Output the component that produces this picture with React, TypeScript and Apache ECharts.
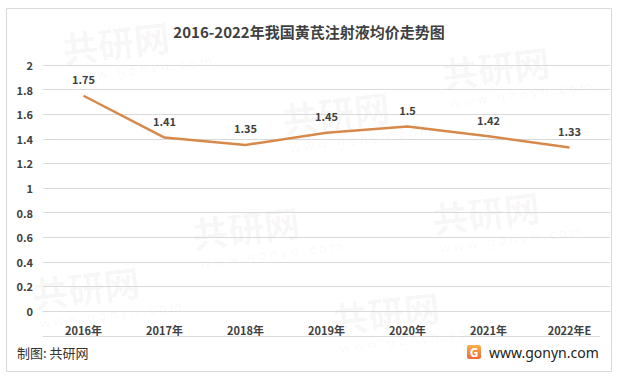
import React, { useEffect, useRef } from "react";
import * as echarts from "echarts";

const categories = ["2016年", "2017年", "2018年", "2019年", "2020年", "2021年", "2022年E"];
const prices = [1.75, 1.41, 1.35, 1.45, 1.5, 1.42, 1.33];
const yTicks = { min: 0, max: 2, interval: 0.2 };
const titleText = "2016-2022年我国黄芪注射液均价走势图";
const sourceText = "制图: 共研网";
const siteText = "www.gonyn.com";

const FONT = "'Noto Sans CJK SC', 'Noto Sans', sans-serif";

function watermark(x: number, y: number) {
  return {
    type: "group",
    x,
    y,
    rotation: 0.12,
    silent: true,
    z: -10,
    children: [
      {
        type: "text",
        style: {
          text: "共研网",
          x: 0,
          y: 0,
          fill: "rgba(0,0,0,0.04)",
          font: `bold 36px ${FONT}`,
        },
      },
      {
        type: "text",
        style: {
          text: "w w w . g o n y n . c o m",
          x: 4,
          y: 42,
          fill: "rgba(0,0,0,0.04)",
          font: `13px 'Noto Sans', sans-serif`,
        },
      },
    ],
  };
}

export default function App() {
  const ref = useRef<HTMLDivElement>(null);

  useEffect(() => {
    document.body.style.margin = "0";
    if (!ref.current) return;
    const chart = echarts.init(ref.current, null, { renderer: "svg" });
    chart.setOption({
      animation: false,
      backgroundColor: "#ffffff",
      title: {
        text: titleText,
        left: "center",
        top: 19,
        textStyle: {
          fontFamily: FONT,
          fontSize: 15,
          fontWeight: "bold",
          color: "#404040",
        },
      },
      grid: { left: 43, right: 8, top: 65, bottom: 74 },
      xAxis: {
        type: "category",
        data: categories,
        boundaryGap: true,
        axisLine: { show: true, lineStyle: { color: "#d9d9d9", width: 1 } },
        axisTick: { show: false },
        axisLabel: {
          margin: 13,
          fontFamily: FONT,
          fontSize: 11,
          fontWeight: "bold",
          color: "#404040",
        },
      },
      yAxis: {
        type: "value",
        min: yTicks.min,
        max: yTicks.max,
        interval: yTicks.interval,
        axisLine: { show: false },
        axisTick: { show: false },
        splitLine: { show: true, lineStyle: { color: "#d9d9d9", width: 1 } },
        axisLabel: {
          margin: 10,
          fontFamily: FONT,
          fontSize: 11,
          fontWeight: "bold",
          color: "#404040",
          formatter: (v: number) => String(Math.round(v * 10) / 10),
        },
      },
      series: [
        {
          type: "line",
          data: prices,
          symbol: "circle",
          symbolSize: 2,
          showSymbol: true,
          lineStyle: { color: "#D6894A", width: 2.5 },
          itemStyle: { color: "rgba(0,0,0,0)", borderWidth: 0 },
          label: {
            show: true,
            position: "top",
            distance: 10,
            fontFamily: FONT,
            fontSize: 11,
            fontWeight: "bold",
            color: "#404040",
            formatter: (p: any) => String(p.value),
          },
        },
      ],
      graphic: [
        watermark(60, 30),
        watermark(280, 100),
        watermark(440, 55),
        watermark(190, 215),
        watermark(430, 200),
        watermark(30, 275),
        watermark(330, 300),
        {
          type: "rect",
          shape: { x: 6.5, y: 8.5, width: 605, height: 363 },
          style: { fill: "none", stroke: "#d9d9d9", lineWidth: 1 },
          silent: true,
        },
        {
          type: "line",
          shape: { x1: 43, y1: 336.5, x2: 600, y2: 336.5 },
          style: { stroke: "#d9d9d9", lineWidth: 1 },
          silent: true,
        },
        {
          type: "text",
          style: {
            text: sourceText,
            x: 17,
            y: 352,
            verticalAlign: "middle",
            fill: "#333333",
            font: `13px ${FONT}`,
          },
        },
        {
          type: "rect",
          shape: { x: 467, y: 345, width: 14, height: 14, r: 2 },
          style: {
            fill: new echarts.graphic.LinearGradient(0, 0, 0, 1, [
              { offset: 0, color: "#f8b04c" },
              { offset: 1, color: "#f06a3a" },
            ]),
          },
        },
        {
          type: "text",
          style: {
            text: "G",
            x: 474,
            y: 352.5,
            align: "center",
            verticalAlign: "middle",
            fill: "#ffffff",
            font: `bold 12px 'Noto Sans', sans-serif`,
          },
        },
        {
          type: "text",
          style: {
            text: siteText,
            x: 489,
            y: 352,
            verticalAlign: "middle",
            fill: "#222222",
            font: `14px 'Noto Sans', sans-serif`,
          },
        },
      ],
    });
    return () => chart.dispose();
  }, []);

  return <div ref={ref} style={{ width: 618, height: 385 }} />;
}
